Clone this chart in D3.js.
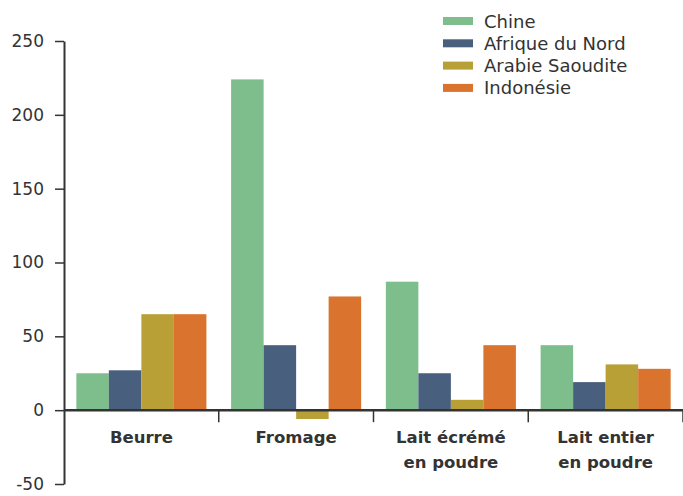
<!DOCTYPE html>
<html><head><meta charset="utf-8">
<script src="https://cdn.jsdelivr.net/npm/d3@7"></script>
<style>body{margin:0;background:#fff}svg{display:block}</style>
</head><body><svg id="c" width="683" height="496"></svg>
<script>
const categories = [["Beurre"], ["Fromage"], ["Lait écrémé", "en poudre"], ["Lait entier", "en poudre"]];
const seriesNames = ["Chine", "Afrique du Nord", "Arabie Saoudite", "Indonésie"];
const chine = [25, 224, 87, 44];
const afriqueDuNord = [27, 44, 25, 19];
const arabieSaoudite = [65, -6, 7, 31];
const indonesie = [65, 77, 44, 28];
const yTicks = [-50, 0, 50, 100, 150, 200, 250];
const colors = ["#7dbe8c", "#485f7e", "#b8a037", "#d9732d"];

const series = [chine, afriqueDuNord, arabieSaoudite, indonesie];
const font = "'DejaVu Sans', sans-serif";
const ink = "#333";
const svg = d3.select("#c");
const x0 = d3.scaleBand().domain(d3.range(categories.length)).range([64, 683]).paddingInner(0).paddingOuter(0);
const x1 = d3.scaleBand().domain(d3.range(series.length)).range([0, x0.bandwidth()]).paddingOuter(0.38).paddingInner(0);
const y = d3.scaleLinear().domain([-50, 250]).range([484, 41]);

// bars
categories.forEach((c, i) => {
  series.forEach((s, j) => {
    const v = s[i];
    svg.append("rect")
      .attr("x", x0(i) + x1(j))
      .attr("width", x1.bandwidth())
      .attr("y", y(Math.max(0, v)))
      .attr("height", Math.abs(y(v) - y(0)))
      .attr("fill", colors[j]);
  });
});

// y axis
const ya = svg.append("g").attr("transform", "translate(64,0)")
  .call(d3.axisLeft(y).tickValues(yTicks).tickFormat(d => String(d)).tickSize(9).tickPadding(11).tickSizeOuter(0));
ya.select(".domain").attr("stroke", ink).attr("stroke-width", 2);
ya.selectAll(".tick line").attr("stroke", ink).attr("stroke-width", 1.5);
ya.selectAll(".tick text").attr("font-family", font).attr("font-size", 17).attr("fill", ink);

// zero axis line with category boundary ticks
svg.append("line").attr("x1", 64).attr("x2", 683).attr("y1", y(0)).attr("y2", y(0))
  .attr("stroke", ink).attr("stroke-width", 2.5);
d3.range(1, categories.length + 1).forEach(i => {
  const xb = i < categories.length ? x0(i) : 683;
  svg.append("line").attr("x1", xb).attr("x2", xb).attr("y1", y(0)).attr("y2", y(0) + 12)
    .attr("stroke", ink).attr("stroke-width", 1.5);
});

// category labels
categories.forEach((c, i) => {
  const t = svg.append("text").attr("text-anchor", "middle")
    .attr("font-family", font).attr("font-size", 16.5).attr("font-weight", "bold").attr("fill", ink);
  c.forEach((line, k) => {
    t.append("tspan").attr("x", x0(i) + x0.bandwidth() / 2).attr("y", 443 + k * 25).text(line);
  });
});

// legend
seriesNames.forEach((n, j) => {
  const g = svg.append("g").attr("transform", `translate(443,${21 + j * 22.3})`);
  g.append("rect").attr("x", 0).attr("y", -4).attr("width", 30).attr("height", 8).attr("fill", colors[j]);
  g.append("text").attr("x", 41).attr("y", 6.5).attr("font-family", font).attr("font-size", 18).attr("fill", ink).text(n);
});
</script></body></html>
